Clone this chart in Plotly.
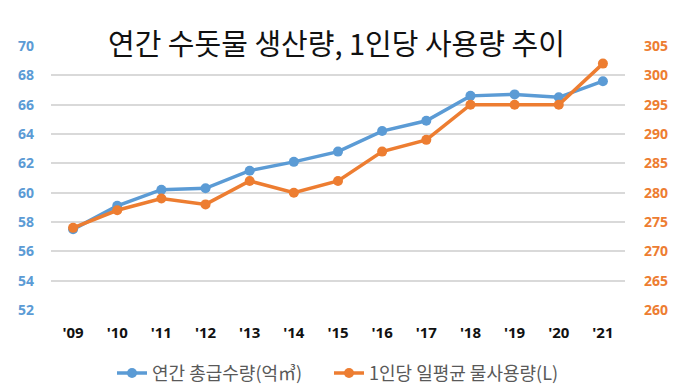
import plotly.graph_objects as go

years = ["'09", "'10", "'11", "'12", "'13", "'14", "'15", "'16", "'17", "'18", "'19", "'20", "'21"]
supply = [57.5, 59.1, 60.2, 60.3, 61.5, 62.1, 62.8, 64.2, 64.9, 66.6, 66.7, 66.5, 67.6]
per_capita = [274, 277, 279, 278, 282, 280, 282, 287, 289, 295, 295, 295, 302]
left_ticks = [52, 54, 56, 58, 60, 62, 64, 66, 68, 70]
right_ticks = [260, 265, 270, 275, 280, 285, 290, 295, 300, 305]

BLUE = "#5B9BD5"
ORANGE = "#ED7D31"
FONT = "Noto Sans CJK KR"

fig = go.Figure()
fig.add_trace(go.Scatter(
    x=years, y=supply, name="연간 총급수량(억㎥)", mode="lines+markers",
    line=dict(color=BLUE, width=3.5), marker=dict(color=BLUE, size=10), yaxis="y",
    legendwidth=172))
fig.add_trace(go.Scatter(
    x=years, y=per_capita, name="1인당 일평균 물사용량(L)", mode="lines+markers",
    line=dict(color=ORANGE, width=3.5), marker=dict(color=ORANGE, size=10), yaxis="y2"))

fig.update_layout(
    width=698, height=388,
    margin=dict(l=51, r=73, t=46, b=78, autoexpand=False),
    paper_bgcolor="white", plot_bgcolor="white",
    font=dict(family=FONT),
    title=dict(text="연간 수돗물 생산량, 1인당 사용량 추이", x=0.482, xanchor="center",
               y=0.885, yanchor="middle", font=dict(size=29, color="#111111", family=FONT)),
    xaxis=dict(type="category", range=[-0.5, 12.5], showgrid=False, showline=False,
               ticks="", ticklabelstandoff=12, automargin=False,
               tickfont=dict(size=15, color="#111111", family="Noto Sans, sans-serif", weight="bold")),
    yaxis=dict(range=[52, 70], tickvals=left_ticks, showgrid=True, gridcolor="#D9D9D9", gridwidth=1.5,
               zeroline=False, showline=False, ticks="", ticklabelstandoff=16, automargin=False,
               tickfont=dict(size=14, color=BLUE, family="Noto Sans, sans-serif", weight="bold")),
    yaxis2=dict(range=[260, 305], tickvals=right_ticks, overlaying="y", side="right", showgrid=False,
                zeroline=False, showline=False, ticks="", ticklabelstandoff=18, automargin=False,
                tickfont=dict(size=14, color=ORANGE, family="Noto Sans, sans-serif", weight="bold")),
    legend=dict(orientation="h", x=0.5, xanchor="center", y=-0.24, yanchor="middle",
                font=dict(size=18, color="#595959", family=FONT)),
    showlegend=True,
)

fig.write_html("out.html", config={"displayModeBar": False},
               post_script="document.body.style.margin='0';document.body.style.overflow='hidden';")
